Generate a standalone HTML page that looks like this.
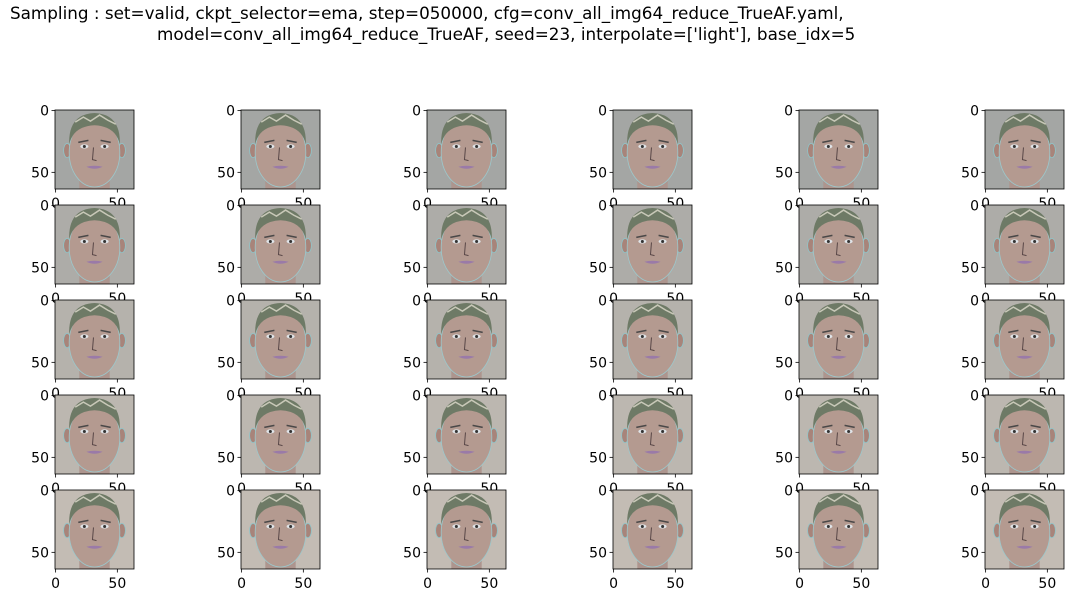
<!DOCTYPE html>
<html><head><meta charset="utf-8">
<style>
body{margin:0;background:#fff;width:1074px;height:603px;overflow:hidden;position:relative;font-family:"DejaVu Sans","Liberation Sans",sans-serif;}
.t{position:absolute;font-size:16.8px;line-height:20px;white-space:pre;color:#000;}
svg{position:absolute;left:0;top:0}
</style></head><body>
<div class="t" style="left:10px;top:3px">Sampling : set=valid, ckpt_selector=ema, step=050000, cfg=conv_all_img64_reduce_TrueAF.yaml,</div>
<div class="t" style="left:157px;top:24px">model=conv_all_img64_reduce_TrueAF, seed=23, interpolate=['light'], base_idx=5</div>
<svg id="fig" width="1074" height="603" font-family="DejaVu Sans, sans-serif" font-size="14">
<defs>
<clipPath id="cp"><rect x="0" y="0" width="79" height="79"/></clipPath>
<g id="face">
<rect x="24" y="56" width="30" height="30" fill="#ad958e"/>
<ellipse cx="12" cy="40" rx="3.5" ry="7" fill="#a8847a" stroke="#8fc4c8" stroke-width="0.8"/>
<ellipse cx="66" cy="40" rx="3.5" ry="7" fill="#a8847a" stroke="#8fc4c8" stroke-width="0.8"/>
<ellipse cx="39" cy="42" rx="25" ry="34" fill="#b49a90" stroke="#9cc8cc" stroke-width="0.8"/>
<path d="M14 34 Q13 4 39 3 Q65 4 64 34 Q60 16 39 15 Q18 16 14 34Z" fill="#6e7a66"/>
<path d="M20 12 L28 7 L35 11 L44 5 L52 10 L60 14" stroke="#c8c8b8" stroke-width="1.5" fill="none"/>
<path d="M23 32 L33 30 M45 30 L55 32" stroke="#4a4848" stroke-width="1.5"/>
<ellipse cx="29" cy="36" rx="4" ry="2" fill="#e0e4e8"/><circle cx="29" cy="36" r="1.5" fill="#333"/>
<ellipse cx="49" cy="36" rx="4" ry="2" fill="#e0e4e8"/><circle cx="49" cy="36" r="1.5" fill="#333"/>
<path d="M38 37 L37 49 L41 50" stroke="#5a4848" stroke-width="1" fill="none"/>
<path d="M31 56 Q39 54 47 56 Q39 60 31 56Z" fill="#9a7aa8"/>
</g>
</defs>
</svg>
<script>
const rows=[0,1,2,3,4];
const cols=[0,1,2,3,4,5];
const bgColors=['#a4a6a4','#adaca8','#b5b2ac','#bcb7b0','#c3bcb4'];
const xTicks=[0,50];
const yTicks=[0,50];
const NS='http://www.w3.org/2000/svg';
const svg=document.getElementById('fig');
const x0=55,y0=110,dx=186,dy=95,sz=79,px=sz/64;
function mk(t,a,p){const e=document.createElementNS(NS,t);for(const k in a)e.setAttribute(k,a[k]);p.appendChild(e);return e;}
rows.forEach(r=>cols.forEach(c=>{
  const g=mk('g',{transform:`translate(${x0+c*dx},${y0+r*dy})`},svg);
  
  
  const ig=mk('g',{'clip-path':'url(#cp)'},g);
  mk('rect',{x:0,y:0,width:sz,height:sz,fill:bgColors[r]},ig);
  mk('use',{href:'#face',transform:`scale(${sz/78})`},ig);
  mk('rect',{x:0,y:0,width:sz,height:sz,fill:'none',stroke:'#000','stroke-width':0.8},g);
  xTicks.forEach(v=>{const x=(v+0.5)*px;mk('line',{x1:x,x2:x,y1:sz,y2:sz+3.5,stroke:'#000','stroke-width':0.8},g);
    const t=mk('text',{x:x,y:sz+19,'text-anchor':'middle'},g);t.textContent=v;
    
    });
  yTicks.forEach(v=>{const y=(v+0.5)*px;mk('line',{x1:0,x2:-3.5,y1:y,y2:y,stroke:'#000','stroke-width':0.8},g);
    const t=mk('text',{x:-6,y:y+5,'text-anchor':'end'},g);t.textContent=v;
    
    });
}));
</script>
</body></html>
